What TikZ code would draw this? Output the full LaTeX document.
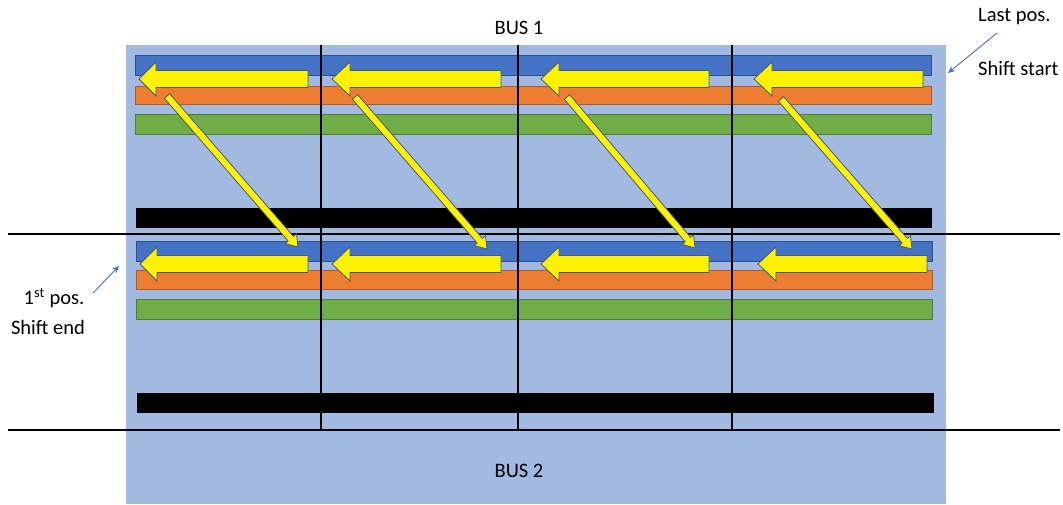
\documentclass[tikz,border=0pt]{standalone}
\usepackage{fontspec}
\setmainfont{Carlito}
\usetikzlibrary{calc,arrows.meta}
\definecolor{bgblue}{RGB}{162,185,225}
\definecolor{barblue}{RGB}{68,114,196}
\definecolor{barblueline}{RGB}{47,82,143}
\definecolor{barorange}{RGB}{237,125,49}
\definecolor{barorangeline}{RGB}{174,90,33}
\definecolor{bargreen}{RGB}{112,173,71}
\definecolor{bargreenline}{RGB}{80,126,50}
\definecolor{yarrowline}{RGB}{65,90,130}
\definecolor{lblblue}{RGB}{68,114,196}
\tikzset{
  bluebar/.style={fill=barblue,draw=barblueline,line width=0.8pt},
  orangebar/.style={fill=barorange,draw=barorangeline,line width=0.8pt},
  greenbar/.style={fill=bargreen,draw=bargreenline,line width=0.8pt},
  blackbar/.style={fill=black},
  busline/.style={draw=black,line width=1.4pt},
  yshape/.style={fill=yellow,draw=yarrowline,line width=0.8pt,line join=miter},
  lbl/.style={font=\fontsize{20.5}{24}\selectfont,inner sep=0pt},
  lblarrow/.style={draw=lblblue,line width=0.9pt,-{Stealth[length=7pt,width=6pt]}}
}
\newcommand\ybigarrow[4]{% tip x, head base x, right x, centre y
  \draw[yshape] (#1,#4) -- (#2,#4-17) -- (#2,#4-8.5) -- (#3,#4-8.5) -- (#3,#4+8.5)
    -- (#2,#4+8.5) -- (#2,#4+17) -- cycle;}
\newcommand\ydiagarrow[2]{% start name, end name
  \coordinate (#1h) at ($(#2)!11pt!(#1)$);
  \draw[yshape] ($(#1)!3.5pt!90:(#2)$) -- ($(#1h)!3.5pt!-90:(#1)$)
    -- ($(#1h)!7.5pt!-90:(#1)$) -- (#2) -- ($(#1h)!7.5pt!90:(#1)$)
    -- ($(#1h)!3.5pt!90:(#1)$) -- ($(#1)!3.5pt!-90:(#2)$) -- cycle;}
\begin{document}
\begin{tikzpicture}[x=1pt,y=-1pt]
\useasboundingbox (0,0) rectangle (1063,504);
\fill[white] (0,0) rectangle (1063,504);
\fill[bgblue] (126,45) rectangle (946,504);
% bars, top group
\draw[bluebar] (135,55) rectangle (931,75);
\draw[orangebar] (135,86) rectangle (931,104);
\draw[greenbar] (135,114) rectangle (931,134);
\fill[blackbar] (136,208) rectangle (932,228);
% bars, bottom group
\draw[bluebar] (136,241) rectangle (932,261);
\draw[orangebar] (136,270) rectangle (932,289);
\draw[greenbar] (136,299) rectangle (932,319);
\fill[blackbar] (137,393) rectangle (934,413);
% lines
\draw[busline] (8,234) -- (1060,234);
\draw[busline] (8,430) -- (1060,430);
\draw[busline] (321,45) -- (321,430);
\draw[busline] (518,45) -- (518,430);
\draw[busline] (732,45) -- (732,430);
% big left arrows
\ybigarrow{139}{156}{308}{79}
\ybigarrow{332}{350}{501}{79}
\ybigarrow{541}{559}{709}{79}
\ybigarrow{754}{772}{923}{79}
\ybigarrow{140}{157}{308}{264}
\ybigarrow{332}{350}{501}{264}
\ybigarrow{541}{559}{709}{264}
\ybigarrow{758}{776}{927}{264}
% diagonal arrows
\coordinate (d1s) at (167,96);  \coordinate (d1e) at (298,247);
\coordinate (d2s) at (355,97);  \coordinate (d2e) at (487,249);
\coordinate (d3s) at (567,97);  \coordinate (d3e) at (695,248);
\coordinate (d4s) at (781,99);  \coordinate (d4e) at (912,249);
\ydiagarrow{d1s}{d1e}
\ydiagarrow{d2s}{d2e}
\ydiagarrow{d3s}{d3e}
\ydiagarrow{d4s}{d4e}
% labels
\node[lbl] (bus1) at (519,28) {BUS 1};
\node[lbl] (bus2) at (519,471) {BUS 2};
\node[lbl,anchor=west] (lastpos) at (978,17) {Last pos.};
\node[lbl,anchor=west] (shiftstart) at (978,68) {Shift start};
\node[lbl] (firstpos) at (54,298) {1\textsuperscript{st} pos.};
\node[lbl] (shiftend) at (48,327) {Shift end};
\coordinate (la1) at (997,33); \coordinate (la2) at (948,73);
\coordinate (lb1) at (93,293); \coordinate (lb2) at (119,266);
\draw[lblarrow] (la1) -- (la2);
\draw[lblarrow] (lb1) -- (lb2);
\end{tikzpicture}
\end{document}
